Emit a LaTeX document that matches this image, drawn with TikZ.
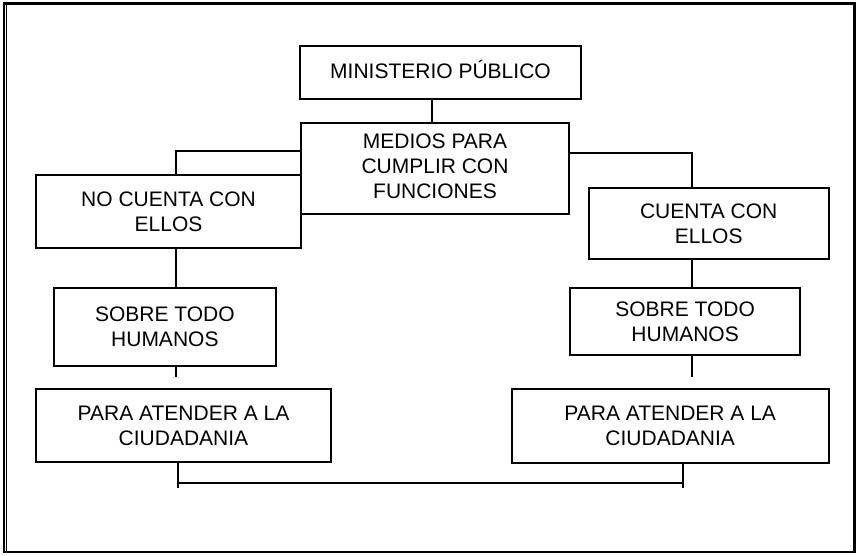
\documentclass[tikz,border=0pt]{standalone}
\usepackage{fontspec}
\setmainfont{Liberation Sans}
\begin{document}
\begin{tikzpicture}[x=1pt,y=-1pt,
  box/.style={draw, line width=2pt, rectangle, inner sep=0pt, align=center,
    anchor=north west, font=\fontsize{21}{25}\selectfont},
  conn/.style={line width=2pt}]
\useasboundingbox (0,0) rectangle (856,555);
% frame
\draw[line width=2.6pt] (4,3.5) rectangle (854.5,552);
\draw[line width=1.1pt] (6.7,5) -- (6.7,551);
% boxes
\node[box, minimum width=281pt, minimum height=53pt, text depth=6pt] (min) at (299,45) {MINISTERIO PÚBLICO};
\node[box, minimum width=268pt, minimum height=91.3pt] (med) at (300,121.7)
  {\raisebox{-4pt}{\begin{tabular}{@{}c@{}}MEDIOS PARA\\CUMPLIR CON\\FUNCIONES\end{tabular}}};
\node[box, minimum width=265pt, minimum height=72.7pt] (no) at (35,174) {NO CUENTA CON\\ELLOS};
\node[box, minimum width=222.3pt, minimum height=77.7pt] (sobl) at (52.7,287.3) {SOBRE TODO\\HUMANOS};
\node[box, minimum width=295pt, minimum height=73pt] (paral) at (35,388.3) {PARA ATENDER A LA\\CIUDADANIA};
\node[box, minimum width=240pt, minimum height=71.6pt] (cu) at (587.7,186.7) {CUENTA CON\\ELLOS};
\node[box, minimum width=229.7pt, minimum height=66.7pt] (sobr) at (569.3,287.3) {SOBRE TODO\\HUMANOS};
\node[box, minimum width=317pt, minimum height=74pt] (parar) at (510.7,387.7) {PARA ATENDER A LA\\CIUDADANIA};
% connector guides
\coordinate (xM) at (432,0);
\coordinate (xL) at (176,0);
\coordinate (xR) at (692,0);
\coordinate (yL) at (0,150.5);
\coordinate (yR) at (0,152.5);
\coordinate (stubL) at (176,377);
\coordinate (stubR) at (692,377);
\coordinate (xBL) at (177.7,0);
\coordinate (xBR) at (683.3,0);
\coordinate (endBL) at (177.7,488);
\coordinate (endBR) at (683.3,488);
\coordinate (hL) at (177.7,482.5);
\coordinate (hR) at (683.3,482.5);
% connectors
\draw[conn] (xM |- min.south) -- (xM |- med.north);
\draw[conn] (med.west |- yL) -| (xL |- no.north);
\draw[conn] (xL |- no.south) -- (xL |- sobl.north);
\draw[conn] (xL |- sobl.south) -- (stubL);
\draw[conn] (med.east |- yR) -| (xR |- cu.north);
\draw[conn] (xR |- cu.south) -- (xR |- sobr.north);
\draw[conn] (xR |- sobr.south) -- (stubR);
\draw[conn] (xBL |- paral.south) -- (endBL);
\draw[conn] (xBR |- parar.south) -- (endBR);
\draw[conn] (hL) -- (hR);
\end{tikzpicture}
\end{document}
